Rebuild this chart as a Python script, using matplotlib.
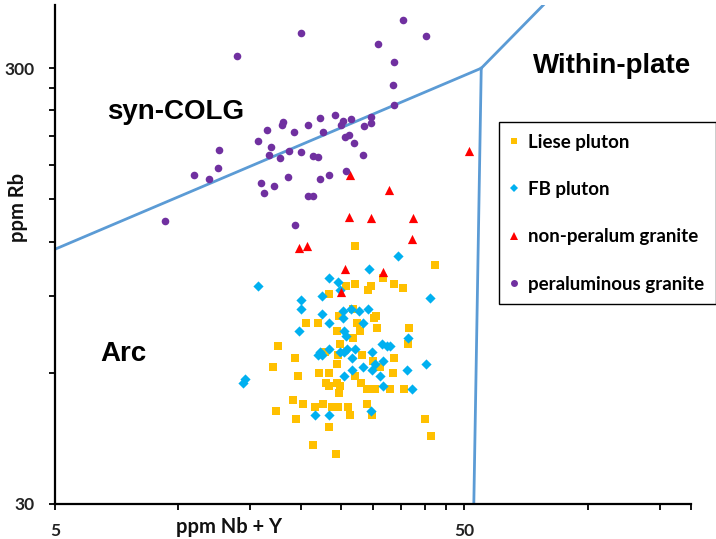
import numpy as np
import matplotlib
matplotlib.use('Agg')
import matplotlib.pyplot as plt
from matplotlib.lines import Line2D
from matplotlib.ticker import FixedLocator, NullFormatter

# Pearce et al. discrimination diagram, Rb vs Nb+Y (ppm)
liese_x = [27.1, 42.5, 27.1, 29.5, 29.1, 31.7, 33.7, 35.5, 25.7, 23.3, 20.5, 22.0, 24.7, 26.8, 27.4, 27.8, 30.1,
           30.5, 30.6, 36.7, 24.5, 26.8, 24.9, 17.5, 36.5, 19.3, 17.0, 19.6, 22.9, 24.6, 24.5, 28.2, 30.0, 33.7,
           22.1, 23.4, 24.5, 23.0, 24.9, 23.3, 24.7, 27.1, 28.0, 29.0, 30.3, 31.2, 33.5, 33.0, 35.7, 19.1, 20.2,
           17.3, 19.4, 21.6, 22.6, 23.8, 24.6, 26.0, 26.3, 29.0, 29.8, 23.3, 21.4, 24.3, 40.1, 41.5]
liese_y = [117, 106, 96, 95, 93, 99, 96, 94, 95, 91, 78, 78, 81, 84, 78, 75, 80,
           81, 76, 76, 75, 72, 70, 69, 70, 65, 62, 59, 67, 66, 63, 66, 64, 65,
           60, 60, 57, 57, 56, 56, 54, 59, 57, 55, 55, 62, 60, 55, 55, 52, 51,
           49, 47, 50, 51, 50, 50, 50, 48, 51, 48, 45, 41, 39, 47, 43]

fb_x = [15.7, 34.5, 29.3, 23.4, 24.6, 24.9, 22.5, 20.0, 20.0, 22.5, 23.3, 19.7, 25.2, 26.5, 27.7, 29.1, 25.2,
        28.3, 25.4, 25.7, 41.3, 23.4, 27.1, 31.5, 32.4, 33.0, 36.5, 25.4, 25.9, 22.2, 29.8, 14.6, 14.4, 21.9,
        22.5, 24.9, 26.6, 31.7, 30.3, 28.3, 26.6, 29.8, 36.3, 40.4, 25.4, 31.2, 31.7, 37.3, 21.6, 23.4, 29.5]
fb_y = [95, 111, 104, 99, 97, 93, 90, 88, 84, 82, 78, 75, 83, 84, 83, 84, 80,
        78, 75, 73, 89, 68, 68, 70, 69, 69, 72, 67, 68, 67, 67, 58, 57, 66,
        66, 67, 65, 64, 63, 62, 61, 61, 61, 63, 59, 59, 56, 55, 48, 48, 49]

nonper_x = [26.3, 32.8, 26.2, 29.5, 37.5, 37.3, 19.7, 20.6, 25.6, 31.7, 25.0, 51.2]
nonper_y = [171, 158, 137, 136, 136, 122, 116, 117, 104, 102, 92, 194]

per_x = [9.3, 10.9, 11.9, 12.5, 12.6, 13.9, 15.7, 16.5, 16.9, 16.7, 15.9, 16.2, 17.1, 17.7, 18.5, 18.7, 18.0,
         17.9, 19.2, 19.9, 19.9, 20.8, 21.4, 21.9, 22.2, 22.6, 20.8, 21.4, 22.2, 23.3, 19.3, 24.1, 25.2, 25.0,
         26.5, 25.6, 26.2, 26.9, 28.3, 25.7, 28.5, 29.5, 29.5, 30.8, 33.7, 33.5, 33.7, 35.5, 40.4]
per_y = [134, 171, 167, 177, 195, 320, 204, 217, 198, 190, 164, 155, 161, 187, 169, 194, 226,
         222, 214, 193, 361, 222, 189, 188, 231, 214, 153, 153, 167, 171, 131, 234, 227, 222,
         229, 209, 211, 202, 190, 174, 221, 232, 225, 341, 310, 274, 247, 387, 355]

# field boundaries
syncolg_vag_x = [2, 55]
syncolg_vag_y = [80, 300]
vag_wpg_x = [55, 51.5]
vag_wpg_y = [300, 8]
syncolg_wpg_x = [55, 400]
syncolg_wpg_y = [300, 2000]

labels = ['Liese pluton', 'FB pluton', 'non-peralum granite', 'peraluminous granite']
colours = ['#FFC000', '#00B0F0', '#FF0000', '#7030A0']

fig = plt.figure(figsize=(7.16, 5.39), dpi=100)
ax = fig.add_axes([55/716, 35/539, 636/716, 499/539])
ax.set_xscale('log')
ax.set_yscale('log')
ax.set_xlim(5, 179)
ax.set_ylim(30, 419)

linecol = '#5B9BD5'
for bx, by in [(syncolg_vag_x, syncolg_vag_y), (vag_wpg_x, vag_wpg_y), (syncolg_wpg_x, syncolg_wpg_y)]:
    ax.plot(bx, by, color=linecol, lw=2.0, zorder=1)

ax.scatter(liese_x, liese_y, marker='s', s=40, color=colours[0], lw=0, zorder=2)
ax.scatter(fb_x, fb_y, marker='D', s=27, color=colours[1], lw=0, zorder=3)
ax.scatter(nonper_x, nonper_y, marker='^', s=44, color=colours[2], lw=0, zorder=4)
ax.scatter(per_x, per_y, marker='o', s=30, color=colours[3], lw=0, zorder=5)

for s in ['top', 'right']:
    ax.spines[s].set_visible(False)
for s in ['left', 'bottom']:
    ax.spines[s].set_linewidth(1.6)
    ax.spines[s].set_color('black')

ax.xaxis.set_major_locator(FixedLocator([5, 50]))
ax.xaxis.set_minor_locator(FixedLocator([10, 15, 20, 25, 30, 35, 40, 45, 100, 150, 179]))
ax.yaxis.set_major_locator(FixedLocator([30, 300]))
ax.yaxis.set_minor_locator(FixedLocator([60, 90, 120, 150, 180, 210, 240, 270]))
ax.set_xticklabels(['5', '50'])
ax.set_yticklabels(['30', '300'])
ax.xaxis.set_minor_formatter(NullFormatter())
ax.yaxis.set_minor_formatter(NullFormatter())
ax.tick_params(which='both', direction='out', length=4.5, width=1.3, color='black')
ax.tick_params(axis='x', which='major', pad=9)
ax.tick_params(axis='y', which='major', pad=10)
for t in ax.get_xticklabels() + ax.get_yticklabels():
    t.set_fontfamily('Lato')
    t.set_fontweight('bold')
    t.set_fontsize(12.5)
    t.set_color('#222222')

fig.text(229/716, 1 - 527/539, 'ppm Nb + Y', family='Lato', weight='bold', fontsize=14.5,
         ha='center', va='center', color='#111111')
fig.text(18/716, 1 - 207/539, 'ppm Rb', family='Lato', weight='bold', fontsize=14.5,
         ha='center', va='center', rotation=90, color='#111111')

ax.text(0.19, 0.785, 'syn-COLG', transform=ax.transAxes, family='Liberation Sans', weight='bold',
        fontsize=20, ha='center', va='center')
ax.text(0.876, 0.878, 'Within-plate', transform=ax.transAxes, family='Liberation Sans', weight='bold',
        fontsize=20, ha='center', va='center')
ax.text(0.107, 0.30, 'Arc', transform=ax.transAxes, family='Liberation Sans', weight='bold',
        fontsize=20, ha='center', va='center')

handles = [Line2D([], [], ls='none', marker='s', ms=5, color=colours[0], mew=0),
           Line2D([], [], ls='none', marker='D', ms=4.5, color=colours[1], mew=0),
           Line2D([], [], ls='none', marker='^', ms=6, color=colours[2], mew=0),
           Line2D([], [], ls='none', marker='o', ms=5, color=colours[3], mew=0)]
leg = ax.legend(handles, labels, loc='upper left', bbox_to_anchor=(499/716, 1 - 122/539),
                bbox_transform=fig.transFigure, frameon=True, fancybox=False, framealpha=1,
                edgecolor='black', borderpad=0.62, labelspacing=1.62, handlelength=0.36,
                handletextpad=0.57, borderaxespad=0,
                prop={'family': 'Lato', 'weight': 'bold', 'size': 13.5})
leg.get_frame().set_linewidth(1.0)
leg.set_zorder(10)

fig.savefig('out.png', dpi=100)
